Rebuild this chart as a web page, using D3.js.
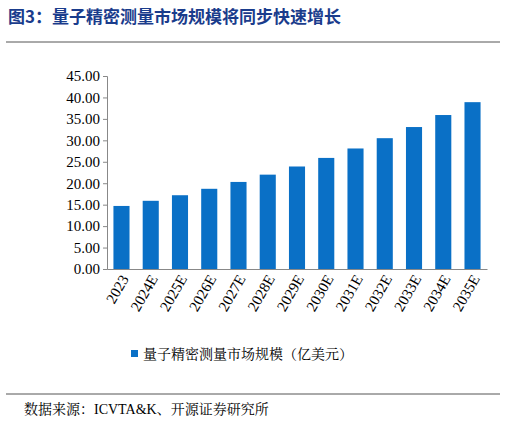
<!DOCTYPE html>
<html><head><meta charset="utf-8">
<script src="https://cdn.jsdelivr.net/npm/d3@7"></script>
<style>body{margin:0;background:#fff}</style></head>
<body><svg id="c" width="506" height="421"></svg>
<script>
const categories=["2023","2024E","2025E","2026E","2027E","2028E","2029E","2030E","2031E","2032E","2033E","2034E","2035E"];
const values=[14.7,15.9,17.2,18.7,20.3,22.0,23.9,25.9,28.1,30.5,33.1,35.9,38.9];
const yTicks=[0,5,10,15,20,25,30,35,40,45];
const title="图3：量子精密测量市场规模将同步快速增长";
const seriesName="量子精密测量市场规模（亿美元）";
const source="数据来源：ICVTA&K、开源证券研究所";
const svg=d3.select("#c");
const serif="'Times New Roman','Liberation Serif','Noto Serif CJK SC','Noto Sans CJK SC',serif";
svg.append("text").attr("x",8).attr("y",23).attr("fill","#1a3c8c").attr("font-weight","bold")
 .attr("font-size",17).attr("font-family","'Noto Sans CJK SC',sans-serif").text(title);
svg.append("line").attr("x1",6).attr("x2",500).attr("y1",42).attr("y2",42).attr("stroke","#555").attr("stroke-width",1);
svg.append("line").attr("x1",6).attr("x2",500).attr("y1",394).attr("y2",394).attr("stroke","#555").attr("stroke-width",1);
const x=d3.scaleBand().domain(categories).range([107,487]).paddingInner(0.45).paddingOuter(0.22);
const y=d3.scaleLinear().domain([0,45]).range([269,76]);
svg.selectAll("rect.b").data(values).join("rect").attr("class","b")
 .attr("x",(d,i)=>x(categories[i])).attr("width",x.bandwidth())
 .attr("y",d=>y(d)).attr("height",d=>y(0)-y(d)).attr("fill","#0a70c6");
const ya=svg.append("g").attr("transform","translate(107,0)")
 .call(d3.axisLeft(y).tickValues(yTicks).tickFormat(d3.format(".2f")).tickSize(4));
ya.selectAll("text").attr("font-size",15).attr("font-family",serif).attr("fill","#000");
ya.select(".domain").attr("stroke","#888");ya.selectAll(".tick line").attr("stroke","#888");
const xa=svg.append("g").attr("transform","translate(0,269)")
 .call(d3.axisBottom(x).tickSize(0));
xa.select(".domain").attr("stroke","#888");
xa.selectAll("text").attr("font-size",15).attr("font-family",serif).attr("fill","#000")
 .attr("text-anchor","end").attr("transform","rotate(-60)").attr("dx","-0.3em").attr("dy","0.5em").attr("y",4);
svg.append("rect").attr("x",131).attr("y",350).attr("width",7).attr("height",7).attr("fill","#0a70c6");
svg.append("text").attr("x",143).attr("y",359).attr("font-size",14).attr("font-family",serif).text(seriesName);
svg.append("text").attr("x",24).attr("y",414).attr("font-size",14).attr("font-family",serif).text(source);
</script></body></html>
